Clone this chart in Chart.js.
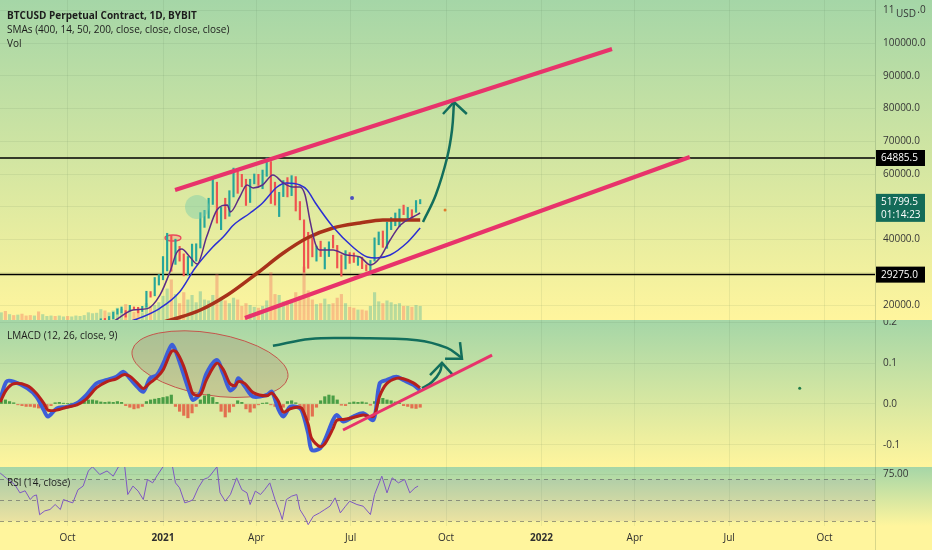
<!DOCTYPE html>
<html>
<head>
<meta charset="utf-8">
<title>BTCUSD Perpetual Contract, 1D, BYBIT</title>
<script src="https://cdn.jsdelivr.net/npm/chart.js@4.4.1/dist/chart.umd.min.js"></script>
<style>
  html, body { margin: 0; padding: 0; background: #fff59d; }
  #wrap { position: relative; width: 932px; height: 550px; overflow: hidden; font-family: "Open Sans", "Noto Sans", sans-serif; }
  .pane { position: absolute; left: 0; width: 932px; background: linear-gradient(to bottom, #a5d6a7, #fff59d); }
  .pane canvas { display: block; }
  #mainPane { top: 0; height: 320px; }
  #macdPane { top: 320px; height: 147px; }
  #rsiPane { top: 467px; height: 83px; background: linear-gradient(to bottom, #a5d6a7 0px, #fff59d 59px, #fff59d 83px); }
  .legend { position: absolute; left: 7px; font-size: 10px; line-height: 14px; color: #1c1c1c; white-space: nowrap; }
  .legend b { font-weight: 700; }
</style>
</head>
<body>
<div id="wrap">
  <div class="pane" id="mainPane"><canvas id="mainChart" width="932" height="320"></canvas></div>
  <div class="pane" id="macdPane"><canvas id="macdChart" width="932" height="147"></canvas></div>
  <div class="pane" id="rsiPane"><canvas id="rsiChart" width="932" height="83"></canvas></div>
  <div class="legend" style="top:8px"><b>BTCUSD Perpetual Contract, 1D, BYBIT</b><br>SMAs (400, 14, 50, 200, close, close, close, close)<br>Vol</div>
  <div class="legend" style="top:328px">LMACD (12, 26, close, 9)</div>
  <div class="legend" style="top:475px">RSI (14, close)</div>
</div>
<script>
// x values are days, day 0 = 1 Jan 2021
const tickDays   = [-92, 0, 90, 181, 273, 365, 455, 546, 638];
const tickLabels = ['Oct', '2021', 'Apr', 'Jul', 'Oct', '2022', 'Apr', 'Jul', 'Oct'];
const priceTicks = [20000, 30000, 40000, 50000, 60000, 70000, 80000, 90000, 100000, 110000];
const macdTicks  = [0.2, 0.1, 0.0, -0.1];
const rsiTicks   = [75];
const rsiLevels  = [70, 50, 30];

// 4-day buckets from 28 Jul 2020
const GRID_START = -156, GRID_STEP = 4;
const candleLow = [
  10800, 10600, 11100, 11100, 11300, 11600, 11500, 11100, 11500, 9900,
  9900, 10200, 10300, 10400, 10100, 10600, 10400, 10500, 10600, 11200,
  11200, 11700, 12900, 13000, 13200, 14400, 15100, 15800, 17200, 17600,
  16300, 18200, 18600, 17600, 18000, 19300, 22400, 22800, 26100, 27700,
  30400, 30300, 32400, 33400, 28900, 29200, 31900, 33400, 37400, 43700,
  46500, 50700, 45000, 43000, 46300, 47100, 53000, 54100, 56100, 50400,
  51300, 57000, 56500, 55500, 59300, 51000, 50500, 47000, 53100, 53000,
  53400, 48700, 46000, 30000, 31200, 34700, 33400, 34800, 31000, 34800,
  37400, 31300, 28800, 31000, 32700, 33000, 32100, 31100, 30400, 29300,
  33400, 38400, 37600, 37300, 43000, 44200, 43900, 47600, 46400, 46600,
  48300, 50900
];
const candleHigh = [
  11500, 12100, 11900, 12000, 12000, 12500, 11800, 11600, 12100, 11900,
  10400, 10600, 11100, 11200, 10800, 10900, 10900, 10800, 11400, 11700,
  11800, 13200, 13800, 13900, 15800, 15900, 16500, 17800, 18800, 19400,
  18300, 19900, 19400, 19300, 19600, 24200, 24100, 28400, 29300, 34800,
  41900, 41300, 40100, 37900, 35600, 34800, 38600, 38700, 48200, 48900,
  52600, 58400, 57500, 49800, 52600, 54900, 61800, 61600, 59900, 58400,
  58400, 60000, 59900, 61200, 64900, 63800, 57500, 54400, 58000, 58900,
  59500, 59200, 51600, 46000, 42200, 40400, 38000, 39500, 37500, 39300,
  41300, 38200, 35300, 36600, 36000, 35900, 34600, 34600, 32300, 33600,
  40500, 42300, 42600, 45300, 46700, 48100, 49300, 50500, 49800, 49100,
  51900, 52200
];
const candleClose = [
  11350, 11200, 11700, 11600, 11900, 11800, 11700, 11500, 11900, 10200,
  10200, 10300, 10900, 10400, 10700, 10800, 10600, 10600, 11400, 11500,
  11700, 12900, 13600, 13800, 15600, 15300, 16300, 17650, 18700, 18700,
  18200, 19450, 19170, 18060, 19430, 23870, 23240, 26280, 29000, 31970,
  40670, 34000, 36070, 35550, 32280, 33470, 33550, 38300, 46500, 47100,
  52100, 57400, 47000, 49600, 48800, 54900, 61200, 58900, 57400, 51300,
  57600, 59000, 58000, 59800, 63100, 56200, 51700, 54000, 57800, 53200,
  58900, 49200, 46400, 40800, 38800, 35700, 36700, 35600, 37400, 39100,
  38100, 31700, 31600, 35900, 34700, 33900, 34300, 31800, 30800, 33600,
  39500, 41500, 39700, 43800, 44400, 45900, 49300, 47700, 48900, 48800,
  49900, 51800
];
// volume, billion USD
const volume = [
  1.6, 1.9, 1.2, 1.0, 1.1, 1.3, 0.9, 1.0, 0.9, 1.8,
  1.2, 0.8, 0.9, 0.8, 0.9, 0.7, 0.8, 0.7, 0.9, 0.8,
  1.0, 1.6, 1.4, 1.5, 2.3, 2.0, 1.6, 2.0, 2.6, 2.4,
  3.4, 2.2, 1.7, 2.0, 1.6, 3.6, 3.0, 3.2, 3.8, 5.2,
  6.8, 8.8, 5.6, 3.6, 6.0, 4.4, 5.4, 3.8, 6.2, 4.4,
  4.2, 5.4, 10.0, 5.0, 4.2, 3.6, 4.8, 4.4, 3.0, 3.6,
  3.2, 2.8, 2.6, 3.0, 4.2, 10.4, 5.6, 5.4, 4.0, 4.2,
  3.8, 6.0, 5.2, 11.6, 6.4, 4.4, 3.4, 3.6, 4.6, 3.4,
  3.6, 4.8, 5.6, 3.6, 2.8, 2.6, 2.2, 2.2, 2.0, 3.0,
  6.0, 4.0, 3.6, 4.2, 3.8, 3.4, 3.6, 3.0, 3.0, 2.8,
  3.2, 3.0
];
const macdHist = [
  0.008, 0.010, 0.006, 0.003, -0.002, -0.004, -0.006, -0.006, -0.008, -0.010,
  -0.012, -0.010, -0.004, 0.003, 0.004, 0.002, 0.001, 0.002, 0.003, 0.006,
  0.008, 0.010, 0.010, 0.008, 0.005, 0.004, 0.005, 0.004, 0.006, 0.004,
  -0.004, -0.008, -0.012, -0.010, -0.006, 0.006, 0.010, 0.012, 0.014, 0.016,
  0.018, 0.022, -0.006, -0.018, -0.028, -0.034, -0.022, -0.006, 0.010, 0.020,
  0.024, 0.016, 0.004, -0.018, -0.032, -0.020, -0.006, 0.008, 0.004, -0.012,
  -0.020, -0.010, -0.002, 0.002, 0.003, -0.002, -0.006, -0.012, -0.008, 0.006,
  0.008, 0.003, -0.008, -0.025, -0.040, -0.030, -0.008, 0.008, 0.018, 0.022,
  0.020, 0.010, -0.003, -0.004, 0.003, 0.005, 0.004, 0.005, 0.003, -0.003,
  0.006, 0.012, 0.014, 0.010, 0.008, 0.005, 0.002, -0.004, -0.006, -0.010,
  -0.011, -0.008
];

const sma14Days = [-157, -120, -90, -70, -56, -44, -29, -15, -3, 7,
  13, 18, 26, 33, 42, 52, 62, 65, 74, 81,
  87, 96, 106, 116, 125, 132, 137, 142, 147, 151,
  164, 177, 190, 200, 209, 219, 229, 241, 248];
const sma14 = [11000, 11600, 10700, 11300, 13300, 15730, 18470, 18900, 23000, 30380,
  35880, 37100, 34660, 32520, 40760, 49000, 50530, 48400, 52980, 56640,
  55730, 56640, 59690, 57250, 56030, 56030, 53590, 45340, 38630, 36800,
  36800, 35270, 34660, 32210, 34350, 39850, 44430, 46870, 48090];
const sma50Days = [-157, -120, -90, -60, -40, -25, -3, 16, 31, 48, 58, 68, 84,
  96, 110, 119, 132, 139, 147, 164, 183, 197, 206, 219, 235, 248];
const sma50 = [9800, 11300, 10900, 11900, 14300, 15730, 19000, 23970, 31300, 37710, 40760, 44430, 48090,
  51150, 56030, 57250, 56640, 55110, 51150, 43820, 37710, 34660, 34350, 35270, 38930, 43510];
const sma200Days = [-157, -100, -50, -10, 14, 36, 62, 91, 116, 139, 164, 190, 212, 248];
const sma200 = [8600, 9800, 11300, 14000, 16030, 18470, 23050, 29770, 35880, 40460, 43510, 45040, 45950, 45950];

const macdDays = [-157, -151, -144, -131, -122, -115, -111, -102.5, -93, -83,
  -74, -64, -54, -45, -38, -32, -25, -19, -12.5, -6,
  0.3, 8.4, 13, 19.6, 26, 29, 35.7, 42, 51.8, 58,
  64.6, 69.4, 72.6, 79, 87, 100, 105, 111, 116, 122.5,
  129, 133.7, 140, 143.4, 151.4, 156, 164, 167.5, 174, 183.5,
  193, 203, 209, 215.7, 225, 231.7, 241.4, 247.8];
const macdLine = [0.010, 0.055, 0.055, 0.039, 0.018, -0.015, -0.031, -0.011, -0.007, 0.002,
  0.022, 0.051, 0.059, 0.067, 0.079, 0.063, 0.043, 0.030, 0.063, 0.071,
  0.100, 0.145, 0.125, 0.075, 0.026, 0.010, 0.026, 0.075, 0.108, 0.075,
  0.034, 0.043, 0.063, 0.043, 0.018, 0.022, 0.030, -0.011, -0.031, -0.007,
  -0.007, -0.015, -0.072, -0.113, -0.109, -0.089, -0.039, -0.027, -0.043, -0.031,
  -0.023, -0.039, 0.051, 0.059, 0.067, 0.059, 0.047, 0.034];
const signalLine = [0.005, 0.035, 0.050, 0.045, 0.026, 0.002, -0.015, -0.015, -0.008, -0.002,
  0.012, 0.040, 0.055, 0.062, 0.072, 0.068, 0.052, 0.038, 0.052, 0.065,
  0.085, 0.130, 0.128, 0.095, 0.045, 0.025, 0.022, 0.060, 0.100, 0.085,
  0.050, 0.045, 0.055, 0.050, 0.028, 0.020, 0.027, 0.008, -0.020, -0.012,
  -0.008, -0.010, -0.050, -0.085, -0.105, -0.098, -0.060, -0.040, -0.038, -0.033,
  -0.027, -0.030, 0.020, 0.050, 0.063, 0.062, 0.052, 0.040];

const rsiDays = [-157, -151, -143, -138, -133, -128, -125, -122, -119, -114,
  -109, -104, -99, -96, -92, -87, -82, -77, -72, -68,
  -61, -54, -48, -43, -37, -34, -29, -24, -19, -15,
  -10, -5, 0, 4, 9, 12, 16, 21, 26, 29,
  34, 39, 43, 45, 52, 55, 60, 65, 71, 76,
  81, 84, 89, 94, 98, 103, 108, 113, 115, 119,
  124, 129, 132, 137, 140, 145, 151, 156, 161, 166,
  171, 176, 180, 187, 193, 200, 204, 211, 216, 221,
  227, 233, 238, 243, 246];
const rsiValues = [76, 71, 65, 57, 59, 50.6, 54, 55, 36, 39.7,
  41, 45.8, 41, 50.6, 49, 47.4, 60, 63.5, 78, 82,
  74.6, 78, 73, 82, 83, 55.4, 63.5, 58.7, 50.6, 69.8,
  66.6, 74.6, 82, 86, 83, 66.6, 61.8, 47.4, 49, 50.6,
  61.8, 69.8, 71.4, 73, 82, 57, 49, 55.4, 71.4, 60,
  57, 45.8, 58.7, 55.4, 60, 66.6, 50.6, 37.8, 31.4, 50.6,
  53.8, 55.4, 41, 33, 26.5, 34.6, 37.8, 41, 44.2, 52.2,
  37.8, 44.2, 49, 45.8, 44.2, 36.2, 55.4, 73, 57, 71.4,
  66.6, 69.8, 57, 61.8, 63.5];

// price levels and the last price tag
const levels = [64885.5, 29275.0];
const lastPrice = 51799.5;
const countdown = '01:14:23';

// hand drawings, in (day, value) units
const upperTrendDays = [11.6, 433], upperTrendPrice = [55110, 98170];
const lowerTrendDays = [79, 508], lowerTrendPrice = [16030, 65190];
const arrowDays = [250.7, 263, 273.9, 278.7, 280.6], arrowPrice = [45340, 53590, 64890, 73440, 81980];
const arrowHeadDays = [270, 280.6, 293], arrowHeadPrice = [78320, 81980, 78320];
const markerDays = [182.3, 272, 32.8], markerPrice = [52670, 49000, 49920];
const redMarkDay = 9.6, redMarkPrice = 40460;

const macdTrendDays = [173.6, 317.3], macdTrendValue = [-0.064, 0.12];
const macdArrowDays = [106, 141.8, 180.3, 245, 273.9, 288.3], macdArrowValue = [0.143, 0.16, 0.162, 0.157, 0.138, 0.113];
const macdArrowHeadDays = [272, 288.3, 286.4], macdArrowHeadValue = [0.111, 0.111, 0.152];
const upArrowDays = [249.8, 259.4, 267, 269], upArrowValue = [0.039, 0.054, 0.079, 0.101];
const upArrowHeadDays = [257.5, 269, 279.7], upArrowHeadValue = [0.071, 0.101, 0.071];
const ellipseDay = 45.3, ellipseValue = 0.098;
const macdDotDay = 614, macdDotValue = 0.039;

// ---------------------------------------------------------------
const FONT = '"Open Sans", "Noto Sans", sans-serif';
const X_MIN = -157.2, X_MAX = 686.6;
const AXIS_W = 57;
const GRID = 'rgba(70,100,70,0.09)';
const PINK = '#e8336b';
const TEAL = '#126e5c';
const UP = '#26a69a', DOWN = '#ef5350';

const gridDay = i => GRID_START + GRID_STEP * i;
const pts = (xs, ys) => xs.map((x, i) => ({ x: x, y: ys[i] }));

function lineDs(data, color, width, extra) {
  return Object.assign({ type: 'line', data: data, borderColor: color, borderWidth: width,
    pointRadius: 0, fill: false, tension: 0 }, extra || {});
}

function xScale(withLabels) {
  return {
    type: 'linear', min: X_MIN, max: X_MAX, offset: false,
    afterBuildTicks: s => { s.ticks = tickDays.map(v => ({ value: v })); },
    afterFit: s => { s.height = withLabels ? 24 : 0; s.paddingLeft = 0; s.paddingRight = 0; },
    grid: { color: GRID, drawTicks: false, offset: false },
    border: { display: false },
    ticks: {
      display: withLabels, autoSkip: false, maxRotation: 0, minRotation: 0, padding: 6, color: '#2f2f2f',
      font: c => ({ family: FONT, size: 10, weight: (c.tick && /^\d{4}$/.test(c.tick.label)) ? 'bold' : 'normal' }),
      callback: (v, i) => tickLabels[i]
    }
  };
}

function yScale(min, max, ticks, fmt) {
  return {
    type: 'linear', position: 'right', min: min, max: max,
    afterBuildTicks: s => { s.ticks = ticks.map(v => ({ value: v })); },
    afterFit: s => { s.width = AXIS_W; s.paddingTop = 0; s.paddingBottom = 0; },
    grid: { color: GRID, drawTicks: false },
    border: { display: false },
    ticks: { padding: 8, color: '#363636', font: { family: FONT, size: 10 }, callback: fmt }
  };
}

const baseOptions = {
  responsive: false, animation: false, events: [],
  layout: { padding: 0, autoPadding: false },
  plugins: { legend: { display: false }, tooltip: { enabled: false } }
};

// thin line between plot and price axis
const axisSeparator = {
  id: 'axisSeparator',
  afterDraw(chart) {
    const { ctx, chartArea: a } = chart;
    ctx.save();
    ctx.strokeStyle = 'rgba(60,90,60,0.2)';
    ctx.lineWidth = 1;
    ctx.beginPath();
    ctx.moveTo(a.right + 0.5, 0);
    ctx.lineTo(a.right + 0.5, chart.height);
    ctx.stroke();
    ctx.restore();
  }
};

const priceMarks = {
  id: 'priceMarks',
  beforeDatasetsDraw(chart) {
    const { ctx, chartArea: a, scales: { x, y } } = chart;
    ctx.save();
    ctx.strokeStyle = '#000';
    ctx.lineWidth = 1.5;
    levels.forEach(v => {
      const py = y.getPixelForValue(v);
      ctx.beginPath();
      ctx.moveTo(a.left, py);
      ctx.lineTo(a.right, py);
      ctx.stroke();
    });
    // little red ring on the January top
    ctx.beginPath();
    ctx.ellipse(x.getPixelForValue(redMarkDay), y.getPixelForValue(redMarkPrice), 8, 3, 0, 0, Math.PI * 2);
    ctx.fillStyle = 'rgba(232,74,95,0.2)';
    ctx.fill();
    ctx.strokeStyle = '#e84a5f';
    ctx.lineWidth = 1.3;
    ctx.stroke();
    ctx.restore();
  },
  afterDraw(chart) {
    const { ctx, chartArea: a, scales: { y } } = chart;
    ctx.save();
    ctx.font = '10px ' + FONT;
    ctx.textBaseline = 'middle';
    levels.forEach(v => {
      const py = y.getPixelForValue(v);
      ctx.fillStyle = '#000';
      ctx.fillRect(a.right + 1, py - 8, 49, 16);
      ctx.fillStyle = '#fff';
      ctx.fillText(v.toFixed(1), a.right + 6, py + 0.5);
    });
    const lp = y.getPixelForValue(lastPrice);
    ctx.fillStyle = '#136b58';
    ctx.fillRect(a.right + 1, lp - 7, 49, 28);
    ctx.fillStyle = '#fff';
    ctx.fillText(lastPrice.toFixed(1), a.right + 6, lp + 1);
    ctx.fillText(countdown, a.right + 6, lp + 14);
    // currency tag over the top label
    ctx.fillStyle = '#a6d7a8';
    ctx.fillRect(a.right + 19, 4, 23, 14);
    ctx.fillStyle = '#363636';
    ctx.fillText('USD', a.right + 21, 14);
    ctx.restore();
  }
};

const macdEllipse = {
  id: 'macdEllipse',
  beforeDatasetsDraw(chart) {
    const { ctx, scales: { x, y } } = chart;
    ctx.save();
    ctx.beginPath();
    ctx.ellipse(x.getPixelForValue(ellipseDay), y.getPixelForValue(ellipseValue), 79, 31, 0.17, 0, Math.PI * 2);
    ctx.fillStyle = 'rgba(160,105,90,0.22)';
    ctx.fill();
    ctx.strokeStyle = '#c4554b';
    ctx.lineWidth = 1;
    ctx.stroke();
    ctx.restore();
  }
};

const rsiBands = {
  id: 'rsiBands',
  beforeDatasetsDraw(chart) {
    const { ctx, chartArea: a, scales: { y } } = chart;
    const top = y.getPixelForValue(rsiLevels[0]);
    const bottom = y.getPixelForValue(rsiLevels[rsiLevels.length - 1]);
    ctx.save();
    ctx.fillStyle = 'rgba(126,87,194,0.10)';
    ctx.fillRect(a.left, top, a.width, bottom - top);
    ctx.strokeStyle = 'rgba(80,80,90,0.55)';
    ctx.setLineDash([4, 4]);
    ctx.lineWidth = 1;
    rsiLevels.forEach(v => {
      const py = Math.round(y.getPixelForValue(v)) + 0.5;
      ctx.beginPath();
      ctx.moveTo(a.left, py);
      ctx.lineTo(a.right, py);
      ctx.stroke();
    });
    ctx.restore();
  }
};

// Price pane
const candleColors = candleClose.map((c, i) => c >= (i ? candleClose[i - 1] : c) ? UP : DOWN);
const volumeColors = candleColors.map(c => c === UP ? 'rgba(38,166,154,0.32)' : 'rgba(239,83,80,0.32)');

new Chart(document.getElementById('mainChart'), {
  type: 'line',
  data: {
    datasets: [
      lineDs(pts(upperTrendDays, upperTrendPrice), PINK, 4),
      lineDs(pts(lowerTrendDays, lowerTrendPrice), PINK, 4),
      lineDs(pts(arrowDays, arrowPrice), TEAL, 2.5, { tension: 0.4 }),
      lineDs(pts(arrowHeadDays, arrowHeadPrice), TEAL, 2.5),
      { type: 'line', data: pts(markerDays, markerPrice), showLine: false, pointRadius: [2, 1.5, 12],
        pointBorderWidth: 0, pointBackgroundColor: ['#4c4fc0', '#e07b2c', 'rgba(120,205,170,0.45)'] },
      lineDs(pts(sma14Days, sma14), '#5c2d86', 1.5, { cubicInterpolationMode: 'monotone' }),
      lineDs(pts(sma50Days, sma50), '#2b2fd3', 1.5, { cubicInterpolationMode: 'monotone' }),
      lineDs(pts(sma200Days, sma200), '#a8321a', 3.5, { cubicInterpolationMode: 'monotone' }),
      { type: 'bar', data: candleLow.map((lo, i) => ({ x: gridDay(i), y: [lo, candleHigh[i]] })),
        backgroundColor: candleColors, barThickness: 1.5, grouped: false, borderWidth: 0 },
      { type: 'bar', yAxisID: 'yVol', data: volume.map((v, i) => ({ x: gridDay(i), y: v })),
        backgroundColor: volumeColors, barThickness: 2.5, grouped: false, borderWidth: 0 }
    ]
  },
  options: Object.assign({}, baseOptions, {
    scales: {
      x: xScale(false),
      y: yScale(15420, 113130, priceTicks, v => v.toFixed(1)),
      yVol: { type: 'linear', display: false, min: 0, max: 70 }
    }
  }),
  plugins: [priceMarks, axisSeparator]
});

// LMACD pane
new Chart(document.getElementById('macdChart'), {
  type: 'line',
  data: {
    datasets: [
      lineDs(pts(macdTrendDays, macdTrendValue), PINK, 3),
      lineDs(pts(macdArrowDays, macdArrowValue), TEAL, 2.5, { tension: 0.4 }),
      lineDs(pts(macdArrowHeadDays, macdArrowHeadValue), TEAL, 2.5),
      lineDs(pts(upArrowDays, upArrowValue), TEAL, 2.5, { tension: 0.4 }),
      lineDs(pts(upArrowHeadDays, upArrowHeadValue), TEAL, 2.5),
      { type: 'line', data: [{ x: macdDotDay, y: macdDotValue }], showLine: false, pointRadius: 1.5,
        pointBorderWidth: 0, pointBackgroundColor: '#1e7a4a' },
      lineDs(pts(macdDays, signalLine), '#b5201c', 3, { tension: 0.3 }),
      lineDs(pts(macdDays, macdLine), '#3d5fd8', 4, { tension: 0.3 }),
      { type: 'bar', data: macdHist.map((v, i) => ({ x: gridDay(i), y: v })),
        backgroundColor: macdHist.map(v => v >= 0 ? '#4a9e45' : '#e2704f'), barThickness: 2.5, grouped: false, borderWidth: 0 }
    ]
  },
  options: Object.assign({}, baseOptions, {
    scales: {
      x: xScale(false),
      y: yScale(-0.1549, 0.2065, macdTicks, v => v.toFixed(1))
    }
  }),
  plugins: [macdEllipse, axisSeparator]
});

// RSI pane with the time axis
new Chart(document.getElementById('rsiChart'), {
  type: 'line',
  data: {
    datasets: [
      lineDs(pts(rsiDays, rsiValues), '#7e57c2', 1)
    ]
  },
  options: Object.assign({}, baseOptions, {
    scales: {
      x: xScale(true),
      y: yScale(25.2, 81.8, rsiTicks, v => v.toFixed(2))
    }
  }),
  plugins: [rsiBands, axisSeparator]
});
</script>
</body>
</html>
